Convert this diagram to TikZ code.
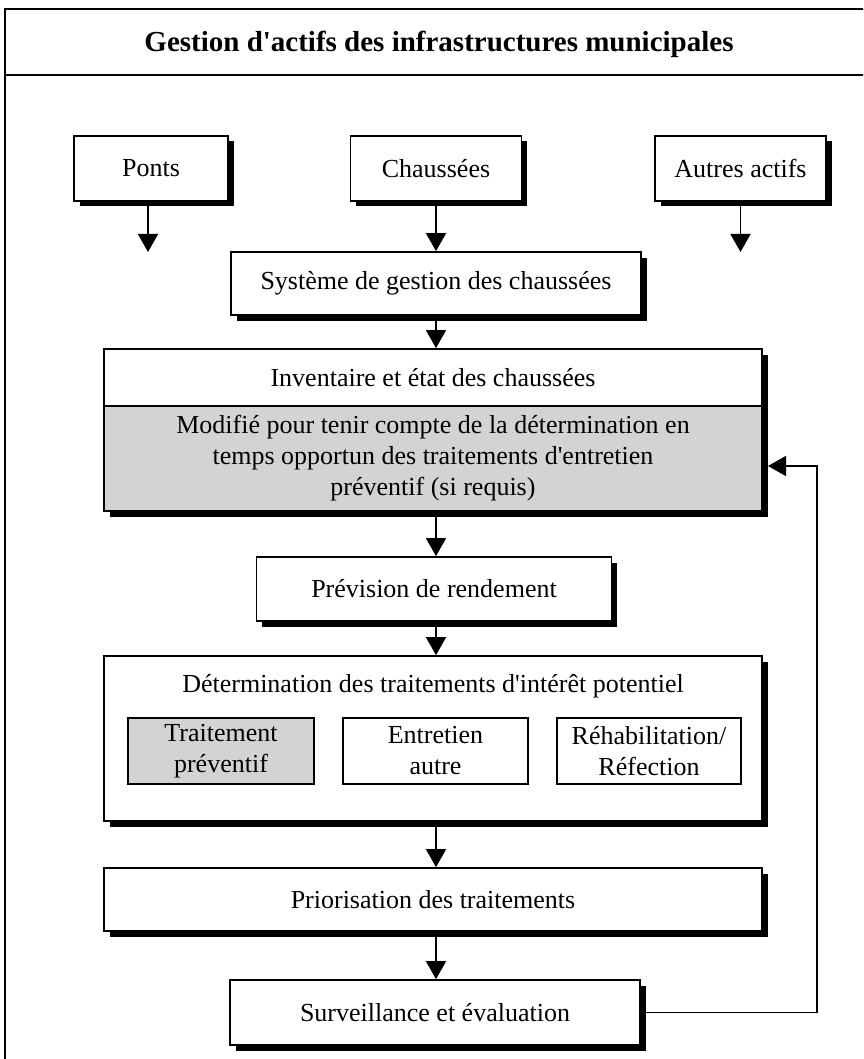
\documentclass[tikz,border=0pt]{standalone}
\usepackage{fontspec}
\setmainfont{Liberation Serif}[Ligatures=TeXOff]
\usetikzlibrary{arrows.meta,shadows}
\definecolor{boxgray}{RGB}{211,211,211}
\begin{document}
\begin{tikzpicture}[x=1pt,y=-1pt]
\tikzset{
  box/.style={draw, line width=1.7pt, fill=white, inner sep=0pt, align=center,
    font=\fontsize{26}{31}\selectfont},
  shad/.style={drop shadow={shadow xshift=5.5pt, shadow yshift=-5.5pt, fill=black, opacity=1}},
  arr/.style={line width=1.6pt, -{Triangle[width=20pt,length=18pt]}},
  plain/.style={inner sep=0pt, align=center, font=\fontsize{26}{31}\selectfont},
}
\useasboundingbox (0,0) rectangle (863,1059);
\clip (0,0) rectangle (863,1059);
\fill[white] (0,0) rectangle (863,1059);
% outer frame
\draw[line width=2.2pt] (5,1100) -- (5,9) -- (900,9);
\draw[line width=2.2pt] (5,75) -- (900,75);
\node[plain, font=\bfseries\fontsize{29}{34}\selectfont] (title) at (439,44) {Gestion d'actifs des infrastructures municipales};

% top row
\node[box, shad, minimum width=154pt, minimum height=65pt] (ponts) at (151,168.5) {Ponts};
\node[box, shad, minimum width=171pt, minimum height=65pt] (chaus) at (436,168.5) {Chaussées};
\node[box, shad, minimum width=171pt, minimum height=65pt] (autres) at (740.5,168.5) {Autres actifs};
\coordinate (pontsend) at (148,252);
\coordinate (autresend) at (740.5,252);

\node[box, shad, minimum width=410pt, minimum height=63pt] (sys) at (436,283.5) {Système de gestion des chaussées};

% inventaire
\node[box, shad, minimum width=658pt, minimum height=162pt] (inv) at (433,430) {};
\node[plain] (invtop) at (433,377.5) {Inventaire et état des chaussées};
\node[box, fill=boxgray, minimum width=658pt, minimum height=105pt] (invmod) at (433,458.5)
  {Modifié pour tenir compte de la détermination en\\temps opportun des traitements d'entretien\\préventif (si requis)};

\node[box, shad, minimum width=355pt, minimum height=64pt] (prev) at (434,589) {Prévision de rendement};

% determination
\node[box, shad, minimum width=658pt, minimum height=165pt] (det) at (433,738.5) {};
\node[plain] (dettitle) at (433,686) {Détermination des traitements d'intérêt potentiel};
\node[box, fill=boxgray, minimum width=186pt, minimum height=66pt] (trait) at (221,751) {Traitement\\préventif};
\node[box, minimum width=185pt, minimum height=66pt] (entr) at (435.5,751) {Entretien\\autre};
\node[box, minimum width=184pt, minimum height=66pt] (rehab) at (649,751) {Réhabilitation/\\Réfection};

\node[box, shad, minimum width=658pt, minimum height=63pt] (prio) at (433,899.5) {Priorisation des traitements};
\node[box, shad, minimum width=410pt, minimum height=65pt] (surv) at (435,1012.5) {Surveillance et évaluation};

% arrows
\draw[arr] (ponts.south -| pontsend) -- (pontsend);
\draw[arr] (autres.south) -- (autresend);
\draw[arr] (chaus.south) -- (chaus.south |- sys.north);
\draw[arr] (sys.south) -- (sys.south |- inv.north);
\draw[arr] (inv.south -| sys.south) -- (sys.south |- prev.north);
\draw[arr] (sys.south |- prev.south) -- (sys.south |- det.north);
\draw[arr] (sys.south |- det.south) -- (sys.south |- prio.north);
\draw[arr] (sys.south |- prio.south) -- (sys.south |- surv.north);

\coordinate (fbcorner) at (817,466);
\coordinate (fbtip) at (768,466);
\draw[arr] (surv.east) -- (surv.east -| fbcorner) -- (fbcorner) -- (fbtip);
\end{tikzpicture}
\end{document}
